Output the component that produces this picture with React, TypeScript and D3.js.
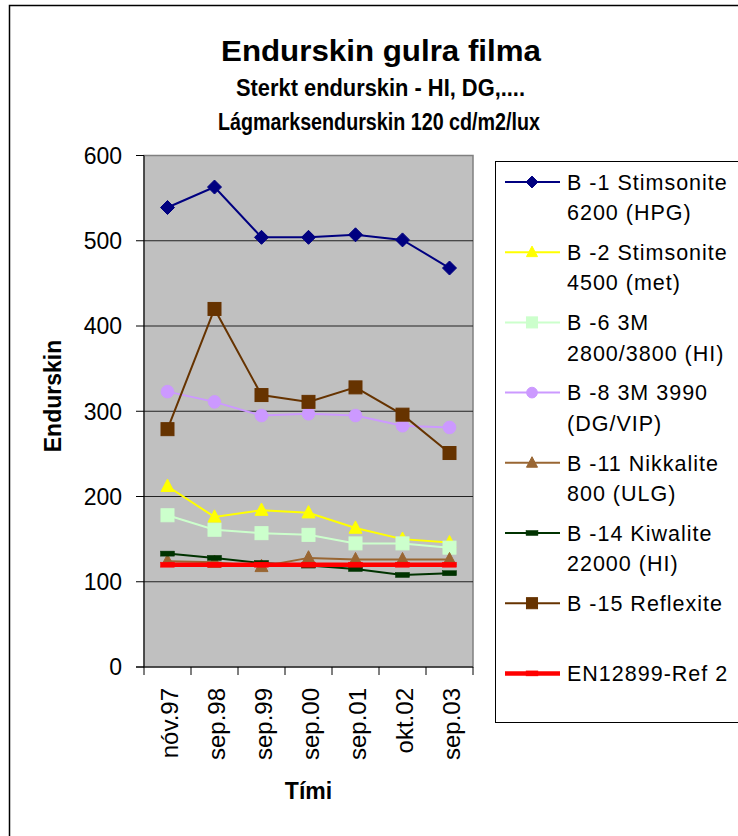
import * as d3 from "d3";

const categories = ["nóv.97", "sep.98", "sep.99", "sep.00", "sep.01", "okt.02", "sep.03"];

const b1 = [539, 563, 504, 504, 507, 501, 468];
const b2 = [212, 176, 184, 181, 163, 150, 146];
const b6 = [178, 161, 157, 155, 145, 145, 140];
const b8 = [323, 311, 295, 297, 295, 283, 281];
const b11 = [124, 123, 118, 128, 126, 126, 126];
const b14 = [133, 128, 122, 119, 115, 108, 110];
const b15 = [279, 420, 319, 311, 328, 296, 251];
const ref = [120, 120, 120, 120, 120, 120, 120];

const yTicks = [0, 100, 200, 300, 400, 500, 600];

type Marker = "diamond" | "triangle" | "square" | "circle" | "dash";

const series: {
  label: string[];
  values: number[];
  color: string;
  marker: Marker;
  width: number;
}[] = [
  { label: ["B -1 Stimsonite", "6200 (HPG)"], values: b1, color: "#000080", marker: "diamond", width: 2 },
  { label: ["B -2 Stimsonite", "4500 (met)"], values: b2, color: "#ffff00", marker: "triangle", width: 2 },
  { label: ["B -6 3M", "2800/3800 (HI)"], values: b6, color: "#ccffcc", marker: "square", width: 2 },
  { label: ["B -8 3M 3990", "(DG/VIP)"], values: b8, color: "#cc99ff", marker: "circle", width: 2 },
  { label: ["B -11 Nikkalite", "800 (ULG)"], values: b11, color: "#996633", marker: "triangle", width: 2 },
  { label: ["B -14 Kiwalite", "22000 (HI)"], values: b14, color: "#003300", marker: "dash", width: 2 },
  { label: ["B -15 Reflexite"], values: b15, color: "#663300", marker: "square", width: 2 },
  { label: ["EN12899-Ref 2"], values: ref, color: "#ff0000", marker: "dash", width: 4.5 },
];

const W = 738;
const H = 836;
const plot = { left: 144, right: 473, top: 155.5, bottom: 667 };
const legend = { x: 495.5, y: 161.5, itemTop: 182, step: 70.2 };

const font = "Liberation Sans, Arial, sans-serif";

// marker sizes roughly as Excel draws them (half-widths in px)
function MarkerShape({ type, x, y, color, s = 1 }: { type: Marker; x: number; y: number; color: string; s?: number }) {
  switch (type) {
    case "diamond": {
      const r = 7 * s;
      return <path d={`M${x},${y - r}L${x + r},${y}L${x},${y + r}L${x - r},${y}Z`} fill={color} stroke={color} />;
    }
    case "triangle": {
      const r = 6.5 * s;
      return (
        <path
          d={`M${x},${y - r * 1.1}L${x + r},${y + r * 0.8}L${x - r},${y + r * 0.8}Z`}
          fill={color}
          stroke={color}
        />
      );
    }
    case "square": {
      const r = 6.5 * s;
      return <rect x={x - r} y={y - r} width={2 * r} height={2 * r} fill={color} stroke={color} />;
    }
    case "circle":
      return <circle cx={x} cy={y} r={6.3 * s} fill={color} stroke={color} />;
    case "dash":
      return <rect x={x - 7 * s} y={y - 2.5} width={14 * s} height={5} fill={color} stroke={color} strokeWidth={0.5} />;
  }
}

export default function App() {
  const x = d3.scaleBand<string>().domain(categories).range([plot.left, plot.right]);
  const y = d3.scaleLinear().domain([0, 600]).range([plot.bottom, plot.top]);
  const cx = (c: string) => (x(c) ?? 0) + x.bandwidth() / 2;

  const line = d3
    .line<number>()
    .x((_, i) => cx(categories[i]))
    .y((d) => y(d));

  const bounds = categories.map((c) => x(c) ?? 0).concat([plot.right]);

  return (
    <svg width={W} height={H} style={{ position: "absolute", left: 0, top: 0, background: "#fff" }} fontFamily={font}>
      <rect x={9.5} y={5.5} width={760} height={860} fill="#fff" stroke="#000" strokeWidth={1.5} />

      {/* titles */}
      <g fontWeight="bold" textAnchor="middle" fill="#000">
        <text x={381} y={61} fontSize={30} textLength={320} lengthAdjust="spacingAndGlyphs">
          Endurskin gulra filma
        </text>
        <text x={380.5} y={96} fontSize={23} textLength={289} lengthAdjust="spacingAndGlyphs">
          Sterkt endurskin - HI, DG,....
        </text>
        <text x={379} y={130} fontSize={23} textLength={322} lengthAdjust="spacingAndGlyphs">
          Lágmarksendurskin 120 cd/m2/lux
        </text>
      </g>

      {/* plot area */}
      <rect
        x={plot.left}
        y={plot.top}
        width={plot.right - plot.left}
        height={plot.bottom - plot.top}
        fill="#c0c0c0"
        stroke="#808080"
        strokeWidth={1.5}
      />
      {yTicks.slice(1, -1).map((t) => (
        <line key={t} x1={plot.left} x2={plot.right} y1={y(t)} y2={y(t)} stroke="#222" strokeWidth={1} />
      ))}

      {/* axes */}
      <line x1={plot.left} x2={plot.left} y1={plot.top} y2={plot.bottom} stroke="#000" strokeWidth={1} />
      <line x1={plot.left - 8} x2={plot.right} y1={plot.bottom} y2={plot.bottom} stroke="#000" strokeWidth={1} />
      {yTicks.map((t) => (
        <g key={t}>
          <line x1={plot.left - 8} x2={plot.left} y1={y(t)} y2={y(t)} stroke="#000" />
          <text x={122} y={y(t)} dy="0.36em" textAnchor="end" fontSize={23}>
            {t}
          </text>
        </g>
      ))}
      {bounds.map((b, i) => (
        <line key={i} x1={b} x2={b} y1={plot.bottom} y2={plot.bottom + 8} stroke="#000" />
      ))}
      {categories.map((c) => (
        <text
          key={c}
          transform={`translate(${cx(c) + 2},688) rotate(-90)`}
          dy="0.36em"
          textAnchor="end"
          fontSize={24}
        >
          {c}
        </text>
      ))}

      <text transform="translate(53,396) rotate(-90)" dy="0.36em" textAnchor="middle" fontSize={23} fontWeight="bold">
        Endurskin
      </text>
      <text x={(plot.left + plot.right) / 2} y={799} textAnchor="middle" fontSize={23} fontWeight="bold">
        Tími
      </text>

      {/* series */}
      {series.map((s) => (
        <g key={s.label[0]}>
          <path d={line(s.values) ?? ""} fill="none" stroke={s.color} strokeWidth={s.width} />
          {s.values.map((v, i) => (
            <MarkerShape key={i} type={s.marker} x={cx(categories[i])} y={y(v)} color={s.color} />
          ))}
        </g>
      ))}

      {/* legend */}
      <rect x={legend.x} y={legend.y} width={300} height={561} fill="#fff" stroke="#000" strokeWidth={1} />
      {series.map((s, i) => {
        const ly = legend.itemTop + i * legend.step;
        return (
          <g key={s.label[0]}>
            <line x1={505} x2={560} y1={ly} y2={ly} stroke={s.color} strokeWidth={s.width} />
            <MarkerShape type={s.marker} x={532} y={ly} color={s.color} s={0.85} />
            {s.label.map((t, j) => (
              <text key={j} x={567} y={ly + j * 30.5} dy="0.36em" fontSize={21.5} letterSpacing={1}>
                {t}
              </text>
            ))}
          </g>
        );
      })}
    </svg>
  );
}
